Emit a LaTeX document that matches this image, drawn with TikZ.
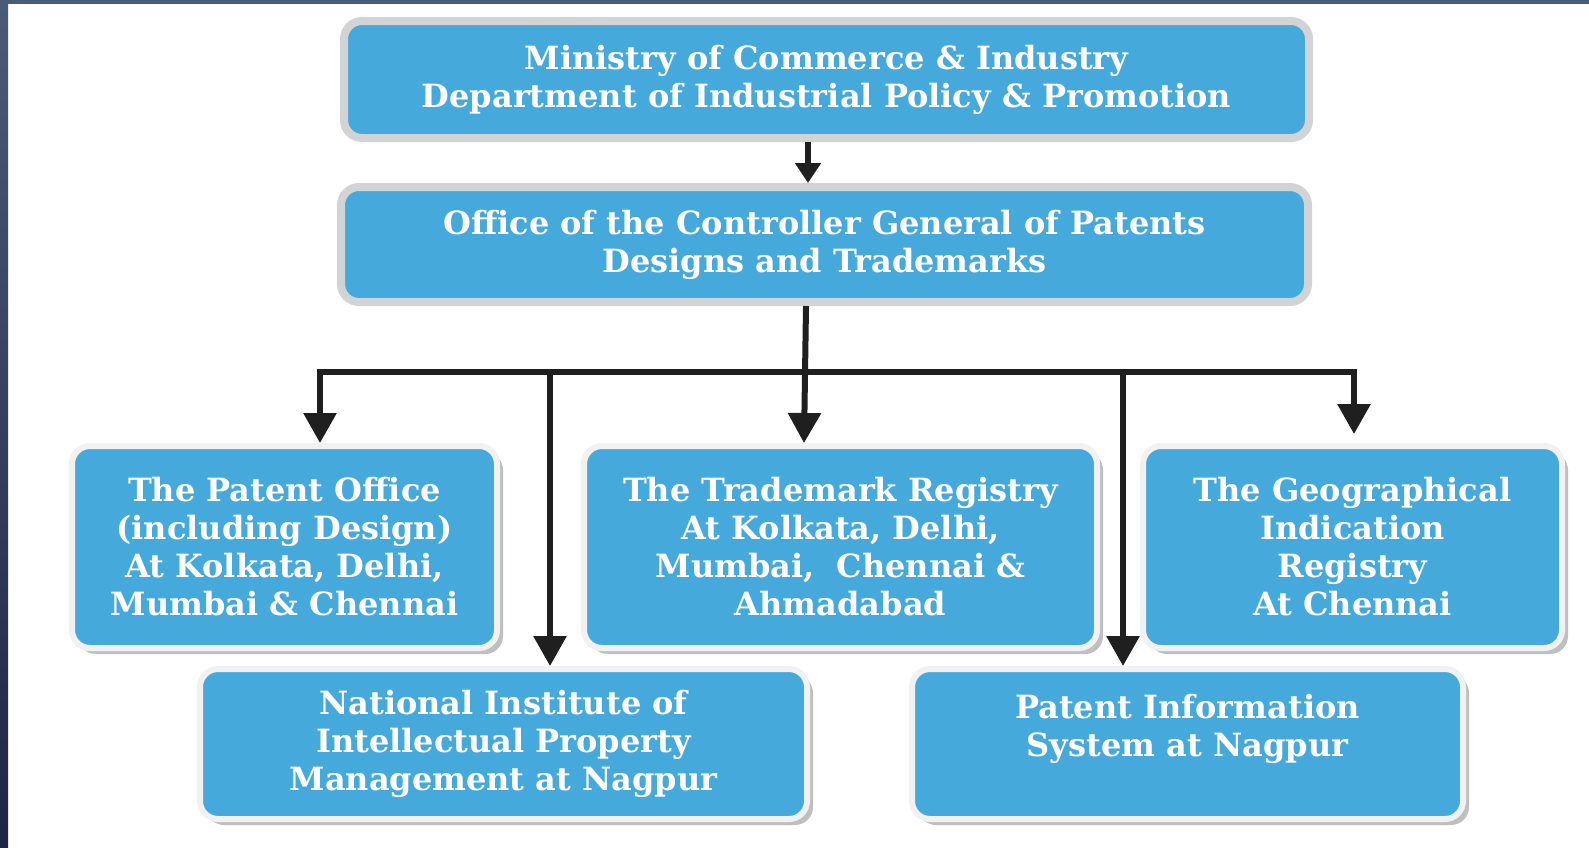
\documentclass[tikz,border=0pt]{standalone}
\usepackage{fontspec}
\setmainfont{DejaVu Serif}
\usetikzlibrary{arrows.meta,shadows}
\definecolor{boxblue}{HTML}{46A9DB}
\definecolor{rimgray}{HTML}{D1D3D4}
\definecolor{rimlight}{HTML}{F1F1F2}
\definecolor{framedark}{HTML}{1F2546}
\definecolor{frametop}{HTML}{4A5B79}

\begin{document}
\begin{tikzpicture}[x=0.5pt,y=-0.5pt,line join=miter]
	\tikzstyle{box}=[rectangle,rounded corners=9pt,fill=boxblue,text=white,align=center,font=\bfseries\fontsize{16}{19}\selectfont,inner sep=0pt]
	\tikzstyle{top box}=[box,draw=rimgray,line width=4pt]
	\tikzstyle{unit box}=[box,draw=rimlight,line width=3pt,drop shadow={shadow xshift=3pt,shadow yshift=-3pt,fill=black!25,opacity=1}]
	\tikzstyle{link}=[line width=3pt,draw=black!88]
	\tikzstyle{arrow}=[link,-{Triangle[width=16pt,length=15pt]}]
	\tikzstyle{both arrow}=[link,{Triangle[width=16pt,length=15pt]}-{Triangle[width=16pt,length=15pt]},shorten >=4.5pt]
	\tikzstyle{small arrow}=[link,-{Triangle[width=12.5pt,length=10pt]}]

	% Frame on the left and top edges
	\useasboundingbox (0,0) rectangle (1589,847);
	\shade[top color=frametop,bottom color=framedark] (0,0) rectangle (8,847);
	\fill[frametop] (0,0) rectangle (1589,4);

	% The ministry and the controller general
	\node[top box,minimum width=482.5pt,minimum height=58.5pt] (ministry) at (826.5,79.5) {Ministry of Commerce \& Industry\\Department of Industrial Policy \& Promotion};
	\node[top box,minimum width=483.5pt,minimum height=57.5pt] (office) at (824.5,244.5) {Office of the Controller General of Patents\\Designs and Trademarks};

	% The offices under the controller general
	\node[unit box,minimum width=212.5pt,minimum height=101pt] (patent) at (284.5,547) {The Patent Office\\(including Design)\\At Kolkata, Delhi,\\Mumbai \& Chennai};
	\node[unit box,minimum width=256.5pt,minimum height=101pt] (trademark) at (840.5,547) {The Trademark Registry\\At Kolkata, Delhi,\\Mumbai,~ Chennai \&\\Ahmadabad};
	\node[unit box,minimum width=209.5pt,minimum height=101pt] (gi) at (1352.5,547) {The Geographical\\Indication\\Registry\\At Chennai};
	\node[unit box,minimum width=303.5pt,minimum height=75pt] (niipm) at (503.5,744) {National Institute of\\Intellectual Property\\Management at Nagpur};
	\node[unit box,minimum width=275.5pt,minimum height=75pt] (pis) at (1187.5,744) {Patent Information\\System at Nagpur\\\mbox{}};

	% Connect the boxes
	\coordinate (barL) at (320,372);
	\coordinate (barR) at (1354,372);
	\coordinate (nTop) at ([xshift=23.25pt]niipm.north);
	\coordinate (pTop) at ([xshift=-32.25pt]pis.north);
	\draw[small arrow] ([xshift=-9.25pt]ministry.south) -- ([xshift=-9.25pt]ministry.south |- office.north);
	\draw[arrow] ([xshift=-9.25pt]office.south) -- ([xshift=-18.25pt]trademark.north);
	\draw[both arrow] ([xshift=17.75pt]patent.north) -- (barL) -- (barR) -- ([xshift=0.75pt]gi.north);
	\draw[arrow] (nTop |- barL) -- (nTop);
	\draw[arrow] (pTop |- barL) -- (pTop);
\end{tikzpicture}
\end{document}
